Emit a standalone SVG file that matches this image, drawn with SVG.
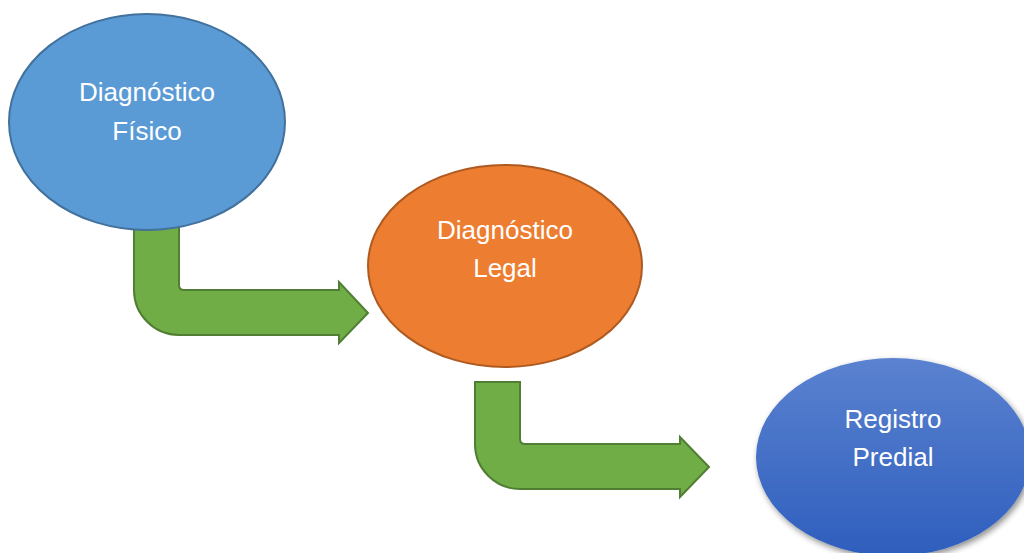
<svg xmlns="http://www.w3.org/2000/svg" width="1024" height="553" viewBox="0 0 1024 553">
  <defs>
    <linearGradient id="blueGrad" x1="0" y1="0" x2="0" y2="1">
      <stop offset="0" stop-color="#5B82D0"/>
      <stop offset="1" stop-color="#2E5EBD"/>
    </linearGradient>
    <filter id="shadow" x="-20%" y="-20%" width="140%" height="140%">
      <feGaussianBlur in="SourceAlpha" stdDeviation="3"/>
      <feOffset dx="2" dy="3" result="b"/>
      <feComponentTransfer><feFuncA type="linear" slope="0.45"/></feComponentTransfer>
      <feMerge><feMergeNode/><feMergeNode in="SourceGraphic"/></feMerge>
    </filter>
  </defs>
  <style>
    .lbl { font-family: "Liberation Sans", Arial, sans-serif; font-size: 26px; fill: #ffffff; text-anchor: middle; }
    .arrow { fill: #70AD47; stroke: #507E32; stroke-width: 2; stroke-linejoin: miter; }
  </style>
  <rect width="1024" height="553" fill="#ffffff"/>
  <g id="connectors">
    <path class="arrow" d="M134,227 L179,227 L179,285 Q179,290 184,290 L339,290 L339,282 L368,313 L339,343 L339,335 L179,335 A45,45 0 0 1 134,290 Z"/>
    <path class="arrow" d="M475,382 L520,382 L520,439 Q520,444 525,444 L680,444 L680,437 L709,467 L680,497 L680,489 L520,489 A45,45 0 0 1 475,444 Z"/>
  </g>
  <g id="node-fisico">
    <ellipse cx="147" cy="122" rx="138" ry="108" fill="#5B9BD5" stroke="#41719C" stroke-width="2"/>
    <text class="lbl" x="147" y="101">Diagnóstico</text>
    <text class="lbl" x="147" y="140">Físico</text>
  </g>
  <g id="node-legal">
    <ellipse cx="505" cy="266" rx="137" ry="101" fill="#ED7D31" stroke="#AE5A21" stroke-width="2"/>
    <text class="lbl" x="505" y="239">Diagnóstico</text>
    <text class="lbl" x="505" y="277">Legal</text>
  </g>
  <g id="node-registro">
    <ellipse cx="893" cy="457" rx="137" ry="99" fill="url(#blueGrad)" filter="url(#shadow)"/>
    <text class="lbl" x="893" y="428">Registro</text>
    <text class="lbl" x="893" y="466">Predial</text>
  </g>
</svg>
